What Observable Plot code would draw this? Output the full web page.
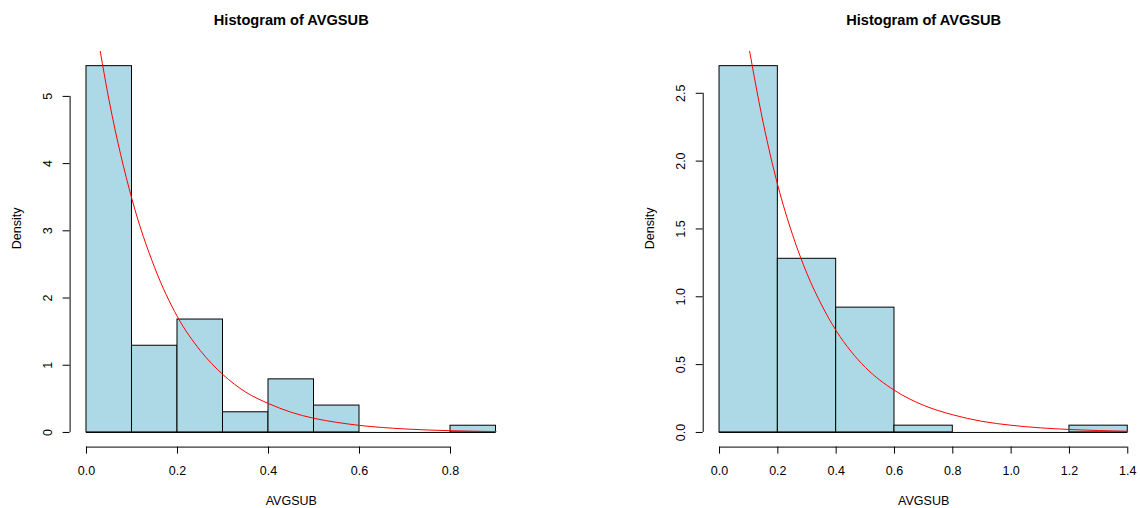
<!DOCTYPE html>
<html>
<head>
<meta charset="utf-8">
<script src="https://cdn.jsdelivr.net/npm/d3@7"></script>
<script src="https://cdn.jsdelivr.net/npm/@observablehq/plot@0.6"></script>
<style>
  html, body { margin: 0; padding: 0; background: #fff; overflow: hidden; }
  #wrap { position: relative; width: 1140px; height: 508px; overflow: hidden; }
  #p1, #p2 { position: absolute; top: 0; }
  #p1 { left: 0; width: 570px; }
  #p2 { left: 570px; width: 576px; }
  svg { font-family: "Liberation Sans", Arial, Helvetica, sans-serif; max-width: none !important; }
</style>
</head>
<body>
<div id="wrap"><div id="p1"></div><div id="p2"></div></div>
<script>
// ---- Left histogram (bin width 0.1) ----
const breaks1 = [0, 0.1, 0.2, 0.3, 0.4, 0.5, 0.6, 0.7, 0.8, 0.9];
const density1 = [5.45, 1.29, 1.68, 0.30, 0.79, 0.40, 0, 0, 0.10];
const xTicks1 = [0, 0.2, 0.4, 0.6, 0.8];
const yTicks1 = [0, 1, 2, 3, 4, 5];
const curveX1 = [0.02, 0.05, 0.1, 0.15, 0.2, 0.25, 0.3, 0.35, 0.4, 0.45, 0.5, 0.55, 0.6, 0.7, 0.8, 0.9];
const curveY1 = [6.08, 4.93, 3.47, 2.45, 1.72, 1.22, 0.86, 0.60, 0.43, 0.30, 0.21, 0.15, 0.105, 0.052, 0.026, 0.013];

// ---- Right histogram (bin width 0.2) ----
const breaks2 = [0, 0.2, 0.4, 0.6, 0.8, 1.0, 1.2, 1.4];
const density2 = [2.70, 1.28, 0.92, 0.05, 0, 0, 0.05];
const xTicks2 = [0, 0.2, 0.4, 0.6, 0.8, 1.0, 1.2, 1.4];
const yTicks2 = [0, 0.5, 1.0, 1.5, 2.0, 2.5];
const curveX2 = [0.09, 0.15, 0.2, 0.25, 0.3, 0.35, 0.4, 0.45, 0.5, 0.6, 0.7, 0.8, 0.9, 1.0, 1.1, 1.2, 1.3, 1.4];
const curveY2 = [2.97, 2.28, 1.82, 1.46, 1.17, 0.94, 0.75, 0.60, 0.48, 0.31, 0.20, 0.13, 0.082, 0.053, 0.034, 0.022, 0.014, 0.009];

const titleText = "Histogram of AVGSUB";
const xLabel = "AVGSUB";
const yLabel = "Density";

function hist({breaks, density, xTicks, yTicks, cx, cy, yFmt, width, marginLeft, marginRight}) {
  const bins = density.map((d, i) => ({x1: breaks[i], x2: breaks[i + 1], y: d}));
  const xr = breaks[breaks.length - 1] - breaks[0];
  const xLo = breaks[0] - 0.04 * xr, xHi = breaks[breaks.length - 1] + 0.04 * xr;
  const ym = d3.max(density);
  const yLo = -0.04 * ym, yHi = 1.04 * ym;
  const curve = cx.map((x, i) => ({x, y: cy[i]}));
  const xFmt = d3.format(".1f");
  return Plot.plot({
    width, height: 508,
    marginLeft, marginRight, marginTop: 51, marginBottom: 61.4,
    x: {domain: [xLo, xHi], axis: null, label: null},
    y: {domain: [yLo, yHi], axis: null, label: null},
    style: {fontFamily: '"Liberation Sans", Arial, Helvetica, sans-serif', background: "white", maxWidth: "none"},
    marks: [
      Plot.rect(bins, {x1: "x1", x2: "x2", y1: 0, y2: "y", fill: "#ADD8E6", stroke: "black", strokeWidth: 1, inset: 0}),
      Plot.ruleY([0], {x1: breaks[0], x2: breaks[breaks.length - 1], stroke: "black", strokeWidth: 1}),
      Plot.line(curve, {x: "x", y: "y", stroke: "#FF0000", strokeWidth: 1, curve: "monotone-x", clip: true}),
      // y axis
      Plot.ruleX([xLo], {y1: yTicks[0], y2: yTicks[yTicks.length - 1], stroke: "black"}),
      Plot.axisY({ticks: yTicks, tickSize: 7, tickFormat: () => "", label: null, stroke: "black", strokeOpacity: 1}),
      Plot.text(yTicks, {y: d => d, text: yFmt, frameAnchor: "left", dx: -22.6, rotate: -90, textAnchor: "middle", lineAnchor: "middle", fontSize: 12.5, fill: "black"}),
      // x axis
      Plot.ruleY([yLo], {x1: xTicks[0], x2: xTicks[xTicks.length - 1], stroke: "black"}),
      Plot.axisX({ticks: xTicks, tickSize: 7, tickFormat: () => "", label: null, stroke: "black", strokeOpacity: 1}),
      Plot.text(xTicks, {x: d => d, text: xFmt, frameAnchor: "bottom", dy: 24, lineAnchor: "middle", fontSize: 12.5, fill: "black"}),
      // titles
      Plot.text([titleText], {frameAnchor: "top", dy: -31, lineAnchor: "middle", fontSize: 14.6, fontWeight: "bold", fill: "black"}),
      Plot.text([xLabel], {frameAnchor: "bottom", dy: 54, lineAnchor: "middle", fontSize: 12.5, fill: "black"}),
      Plot.text([yLabel], {frameAnchor: "left", dx: -53.5, rotate: -90, lineAnchor: "middle", fontSize: 12.5, fill: "black"})
    ]
  });
}

document.getElementById("p1").append(hist({
  breaks: breaks1, density: density1, xTicks: xTicks1, yTicks: yTicks1,
  cx: curveX1, cy: curveY1, yFmt: d3.format("d"),
  width: 570, marginLeft: 69.6, marginRight: 58.1
}));
document.getElementById("p2").append(hist({
  breaks: breaks2, density: density2, xTicks: xTicks2, yTicks: yTicks2,
  cx: curveX2, cy: curveY2, yFmt: d3.format(".1f"),
  width: 576, marginLeft: 132.7, marginRight: 2.4
}));
</script>
</body>
</html>
